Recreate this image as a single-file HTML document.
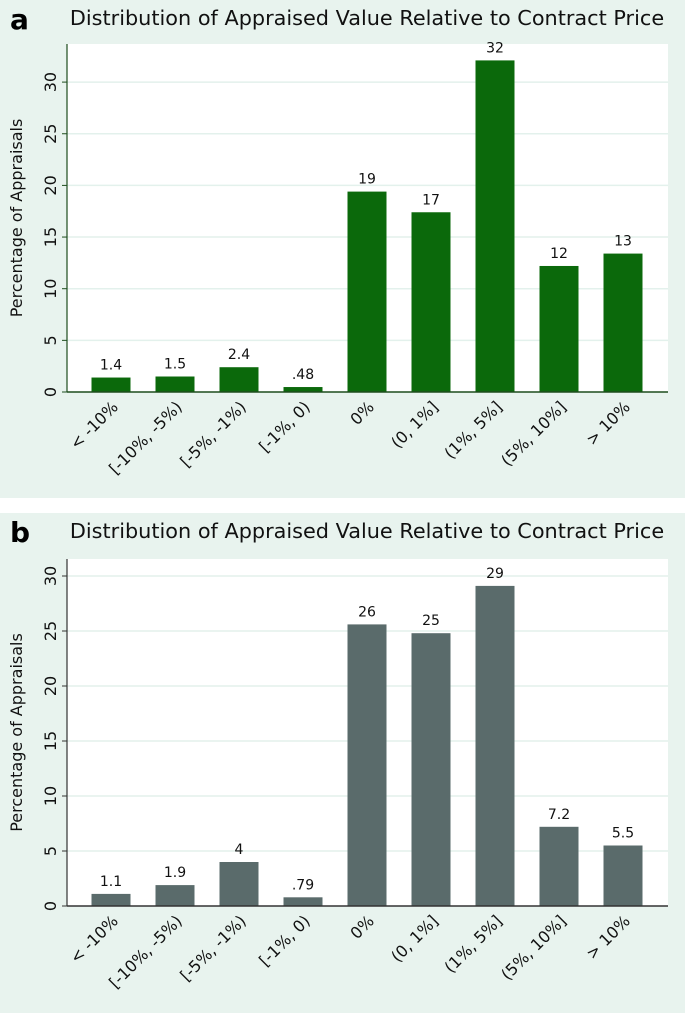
<!DOCTYPE html>
<html><head><meta charset="utf-8"><style>
html,body{margin:0;padding:0;background:#fff;}
svg{display:block;font-family:"DejaVu Sans","Liberation Sans",sans-serif;}
</style></head><body>
<svg id="chart" width="685" height="1013" xmlns="http://www.w3.org/2000/svg"></svg>
<script>
const categories = ["< -10%","[-10%, -5%)","[-5%, -1%)","[-1%, 0)","0%","(0, 1%]","(1%, 5%]","(5%, 10%]","> 10%"];
const valuesA = [1.4,1.5,2.4,0.48,19.4,17.4,32.1,12.2,13.4];
const labelsA = ["1.4","1.5","2.4",".48","19","17","32","12","13"];
const valuesB = [1.1,1.9,4.0,0.79,25.6,24.8,29.1,7.2,5.5];
const labelsB = ["1.1","1.9","4",".79","26","25","29","7.2","5.5"];
const yTicks = [0,5,10,15,20,25,30];

const NS="http://www.w3.org/2000/svg";
const svg=document.getElementById('chart');
function mk(tag,attrs,parent,text){const e=document.createElementNS(NS,tag);for(const k in attrs)e.setAttribute(k,attrs[k]);if(text!==undefined)e.textContent=text;(parent||svg).appendChild(e);return e;}

function panel(id,letter,top,bottom,y0,pxPerUnit,plotTop,values,labels,color,axisColor){
  const g=mk('g',{});
  
  
  const bg=mk('rect',{x:0,y:top,width:685,height:bottom-top,fill:'#e8f3ee'},g);
  
  
  const L=67,R=668;
  const yScale=v=>y0-v*pxPerUnit;
  const xScale=i=>111+i*64;
  const pa=mk('rect',{x:L,y:plotTop,width:R-L,height:y0-plotTop,fill:'#ffffff'},g);
  
  
  const lt=mk('text',{x:10,y:top+29,'font-size':28,'font-weight':'bold',fill:'#000'},g,letter);
  
  
  const tt=mk('text',{x:367,y:top+25,'font-size':20.8,'text-anchor':'middle',fill:'#111'},g,'Distribution of Appraised Value Relative to Contract Price');
  
  
  yTicks.forEach(t=>{
    const y=yScale(t);
    if(t>0){const gl=mk('line',{x1:L,x2:R,y1:y,y2:y,stroke:'#e3f1ec','stroke-width':1.5},g);
      
      }
    mk('line',{x1:L-5,x2:L,y1:y,y2:y,stroke:axisColor,'stroke-width':1},g);
    const tl=mk('text',{x:0,y:0,'font-size':16,'text-anchor':'middle',fill:'#111',transform:`translate(${L-11},${y}) rotate(-90)`},g,String(t));
    
    
  });
  values.forEach((v,i)=>{
    const cx=xScale(i),y=yScale(v);
    const b=mk('rect',{x:cx-19.5,y:y,width:39,height:y0-y,fill:color},g);
    
    
    const vl=mk('text',{x:cx,y:y-8,'font-size':14,'text-anchor':'middle',fill:'#111'},g,labels[i]);
    
    
    const cl=mk('text',{x:0,y:0,'font-size':16,'text-anchor':'end',fill:'#111',transform:`translate(${cx+8},${y0+16}) rotate(-45)`},g,categories[i]);
    
    
  });
  mk('line',{x1:L,x2:L,y1:plotTop,y2:y0,stroke:axisColor,'stroke-width':1.2},g);
  const xa=mk('line',{x1:L,x2:R,y1:y0,y2:y0,stroke:axisColor,'stroke-width':1.5},g);
  
  
  const yt=mk('text',{x:0,y:0,'font-size':16,'text-anchor':'middle',fill:'#111',transform:`translate(22,${(plotTop+y0)/2}) rotate(-90)`},g,'Percentage of Appraisals');
  
  
}
panel('a','a',0,498,392,10.33,44,valuesA,labelsA,'#0b690b','#1d4d1d');
panel('b','b',513,1013,906,11,559,valuesB,labelsB,'#5a6b6b','#333');
</script>
</body></html>
